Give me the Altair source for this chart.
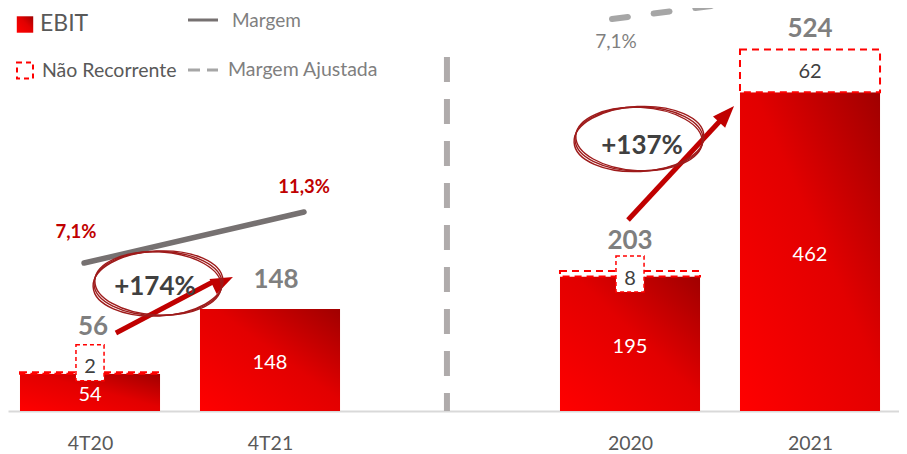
import altair as alt
import pandas as pd

# ---------------- data ----------------
categories = ["4T20", "4T21", "2020", "2021"]
ebit = [54, 148, 195, 462]
nao_recorrente = [2, 0, 8, 62]
ebit_total = [56, 148, 203, 524]
margem_4t = [7.1, 11.3]              # Margem 4T20 -> 4T21
margem_4t_labels = ["7,1%", "11,3%"]
margem_ajustada_ano = [7.1, 11.0]    # Margem Ajustada 2020 -> 2021
margem_ano_labels = ["7,1%"]
crescimento = ["+174%", "+137%"]
legend_labels = ["EBIT", "Não Recorrente", "Margem", "Margem Ajustada"]

# ---------------- layout ----------------
slot = [0, 1, 3, 4]          # category slots (slot 2 = separator gap)
HALF = 0.389                 # half bar width in slot units
PX = 0.69                    # px per EBIT unit
W, H = 891, 403
FONT = "Lato"
XS = alt.Scale(domain=[-0.4556, 4.4944])
YS = alt.Scale(domain=[0, H / PX])
M_LEFT = alt.Scale(domain=[-5.09, 28.11])
M_RIGHT = alt.Scale(domain=[-51.7, 8.75])

axis_lookup = categories[:2] + [""] + categories[2:]
XAXIS = alt.Axis(values=slot, labelExpr="%s[datum.value]" % str(axis_lookup),
                 domain=True, domainColor="#D9D9D9", domainWidth=2, ticks=False,
                 tickSize=0, grid=False, labelFont=FONT, labelFontSize=19.5,
                 labelColor="#595959", labelPadding=23, title=None)


def X(field):
    return alt.X(field, type="quantitative", scale=XS, axis=XAXIS, title=None)


def Y(field, scale=YS):
    return alt.Y(field, type="quantitative", scale=scale, axis=None, title=None)


GRAD = alt.Gradient(gradient="linear",
                    stops=[alt.GradientStop(color="#FF0000", offset=0),
                           alt.GradientStop(color="#E20000", offset=0.55),
                           alt.GradientStop(color="#A00000", offset=1)],
                    x1=0, y1=1, x2=1, y2=0)

df = pd.DataFrame({"cat": categories, "slot": slot, "ebit": ebit,
                   "nr": nao_recorrente, "total": ebit_total})
df["x0"] = df["slot"] - HALF
df["x1"] = df["slot"] + HALF
base = alt.Chart(df)

layers = []

# separator
sep = pd.DataFrame({"x": [1.983], "y": [513], "y2": [0]})
layers.append(alt.Chart(sep).mark_rule(color="#AFABAB", strokeWidth=6, strokeDash=[25, 17]).encode(
    x=X("x"), y=Y("y"), y2="y2:Q"))

# EBIT bars
layers.append(base.mark_rect(fill=GRAD).encode(x=X("x0"), x2="x1:Q", y=Y("ebit"), y2=alt.datum(0)))

# non-recurring boxes
layers.append(base.transform_filter("datum.nr > 0").mark_rect(
    fill="white", stroke="#FF0000", strokeWidth=2, strokeDash=[7, 5]).encode(
    x=X("x0"), x2="x1:Q", y=Y("ebit"), y2="total:Q"))

BOX = "M-0.78,-1L0.78,-1L0.78,1L-0.78,1Z"
for cat, box_dy, txt_dy in [("4T20", -11, -7), ("2020", -2.5, 2.5)]:
    sub = base.transform_filter(alt.datum.cat == cat)
    layers.append(sub.mark_point(shape=BOX, size=1296, filled=True, fill="white", fillOpacity=1,
                                 stroke="#FF0000", strokeWidth=1.5, strokeDash=[4, 3], opacity=1,
                                 yOffset=box_dy).encode(x=X("slot"), y=Y("ebit")))
    layers.append(sub.mark_text(font=FONT, fontSize=20, color="#404040", baseline="middle",
                                yOffset=txt_dy).encode(x=X("slot"), y=Y("ebit"), text="nr:Q"))

# white value labels inside the bars
layers.append(base.transform_calculate(mid="datum.ebit / 2").mark_text(
    font=FONT, fontSize=20, color="white", baseline="middle", yOffset=3).encode(
    x=X("slot"), y=Y("mid"), text="ebit:Q"))

# big non-recurring label
layers.append(base.transform_filter(alt.datum.cat == "2021").transform_calculate(
    mid="datum.ebit + datum.nr / 2").mark_text(
    font=FONT, fontSize=20, color="#404040", baseline="middle", yOffset=1).encode(
    x=X("slot"), y=Y("mid"), text="nr:Q"))

# totals
for cat, dx, dy in zip(categories, [3, 6, 0, 0], [-45, -28.5, -30, -20.5]):
    layers.append(base.transform_filter(alt.datum.cat == cat).mark_text(
        font=FONT, fontSize=26, fontWeight="bold", color="#7F7F7F", baseline="middle",
        xOffset=dx, yOffset=dy).encode(x=X("slot"), y=Y("total"), text="total:Q"))

# margin line (4T)
mleft = pd.DataFrame({"x": [-0.033, 1.189], "m": margem_4t, "lab": margem_4t_labels,
                      "lx": [-0.078, 1.189], "dy": [-31, -25]})
layers.append(alt.Chart(mleft).mark_line(color="#767171", strokeWidth=5.5, strokeCap="round").encode(
    x=X("x"), y=Y("m", M_LEFT)))
for i in range(2):
    layers.append(alt.Chart(mleft.iloc[[i]]).mark_text(
        font=FONT, fontSize=18.5, fontWeight="bold", color="#C00000", baseline="middle",
        yOffset=float(mleft["dy"][i])).encode(x=X("lx"), y=Y("m", M_LEFT), text="lab:N"))

# adjusted margin (year)
mright = pd.DataFrame({"x": [2.9, 4.0], "m": margem_ajustada_ano})
layers.append(alt.Chart(mright).mark_line(color="#A6A6A6", strokeWidth=6, strokeDash=[16, 26],
                                          strokeCap="round").encode(x=X("x"), y=Y("m", M_RIGHT)))
mrl = pd.DataFrame({"x": [2.922], "m": margem_ajustada_ano[:1], "lab": margem_ano_labels})
layers.append(alt.Chart(mrl).mark_text(font=FONT, fontSize=19, color="#7F7F7F", baseline="middle",
                                       yOffset=23).encode(x=X("x"), y=Y("m", M_RIGHT), text="lab:N"))

# growth arrows
arrows = pd.DataFrame({"x": [0.144, 2.989], "y": [113.0, 276.8],
                       "x2": [0.679, 3.532], "y2": [186.7, 429.3],
                       "hx": [0.794, 3.578], "hy": [194.2, 442.0], "ang": [64.4, 42.9]})
layers.append(alt.Chart(arrows).mark_rule(color="#C00000", strokeWidth=5).encode(
    x=X("x"), y=Y("y"), x2="x2:Q", y2="y2:Q"))
HEAD = "M0,0L0.75,2L-0.75,2Z"
for i in range(2):
    layers.append(alt.Chart(arrows.iloc[[i]]).mark_point(
        shape=HEAD, size=484, filled=True, fill="#C00000", opacity=1, strokeWidth=0,
        angle=float(arrows["ang"][i])).encode(x=X("hx"), y=Y("hy")))

# ellipses + growth labels
ELL = ("M-1,0C-1,-0.276,-0.552,-0.5,0,-0.5C0.552,-0.5,1,-0.276,1,0"
       "C1,0.276,0.552,0.5,0,0.5C-0.552,0.5,-1,0.276,-1,0Z")
ell = pd.DataFrame({"x": [0.378, 3.05], "y": [184.8, 394.2],
                    "tx": [0.361, 3.067], "ty": [179.0, 384.0], "lab": crescimento})
for ang, sz in [(357, 16900), (3, 16000), (0, 16400)]:
    layers.append(alt.Chart(ell).mark_point(shape=ELL, size=sz, filled=False, stroke="#9E1B1B",
                                            strokeWidth=1.4, opacity=1, angle=ang).encode(
        x=X("x"), y=Y("y")))
layers.append(alt.Chart(ell).mark_text(font=FONT, fontSize=26, fontWeight="bold", color="#404040",
                                       baseline="middle").encode(x=X("tx"), y=Y("ty"), text="lab:N"))

# legend
leg = alt.Chart(pd.DataFrame({"a": [0]}))
layers.append(leg.mark_point(shape="square", size=270, filled=True, fill=GRAD, opacity=1,
                             strokeWidth=0).encode(x=alt.value(17), y=alt.value(16.5)))
layers.append(leg.mark_text(font=FONT, fontSize=23, color="#595959", align="left",
                            baseline="middle").encode(x=alt.value(32), y=alt.value(16),
                                                      text=alt.value(legend_labels[0])))
layers.append(leg.mark_point(shape="square", size=256, filled=True, fill="white", stroke="#FF0000",
                             strokeWidth=2, strokeDash=[5, 4], opacity=1).encode(
    x=alt.value(17), y=alt.value(62.5)))
layers.append(leg.mark_text(font=FONT, fontSize=19.5, color="#595959", align="left",
                            baseline="middle").encode(x=alt.value(34), y=alt.value(63),
                                                      text=alt.value(legend_labels[1])))
layers.append(leg.mark_rule(color="#767171", strokeWidth=3).encode(
    x=alt.value(180), x2=alt.value(210), y=alt.value(12)))
layers.append(leg.mark_text(font=FONT, fontSize=19, color="#7F7F7F", align="left",
                            baseline="middle").encode(x=alt.value(224), y=alt.value(12.5),
                                                      text=alt.value(legend_labels[2])))
layers.append(leg.mark_rule(color="#A6A6A6", strokeWidth=3, strokeDash=[12, 7]).encode(
    x=alt.value(180), x2=alt.value(210), y=alt.value(62)))
layers.append(leg.mark_text(font=FONT, fontSize=19.5, color="#7F7F7F", align="left",
                            baseline="middle").encode(x=alt.value(220), y=alt.value(62),
                                                      text=alt.value(legend_labels[3])))

chart = alt.layer(*layers).resolve_scale(y="independent").properties(
    width=W, height=H,
    padding={"left": 0, "top": 0, "right": 0, "bottom": 43},
    autosize=alt.AutoSizeParams(type="none"),
).configure_view(stroke=None)

chart.save("out.html", embed_options={"renderer": "svg", "actions": False})
